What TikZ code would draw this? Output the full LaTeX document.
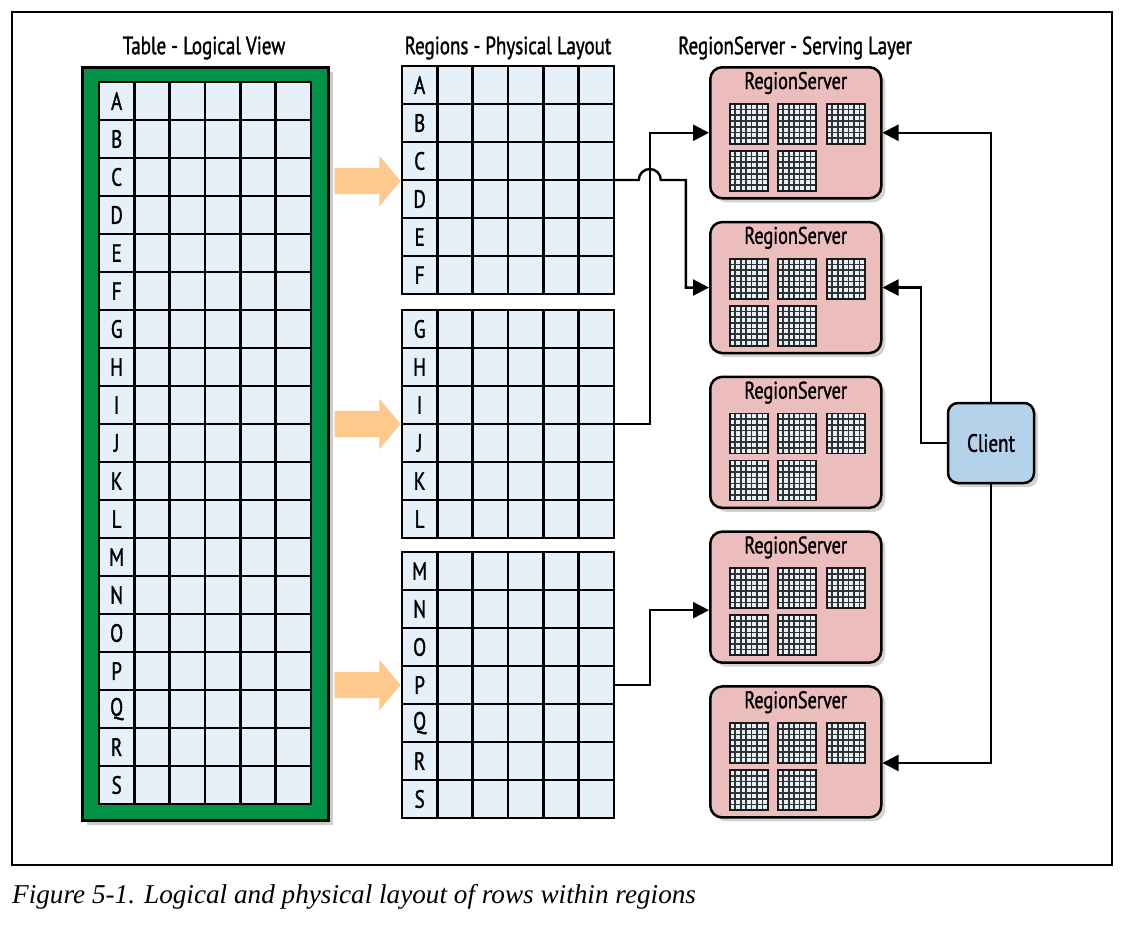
\documentclass[tikz,border=0pt]{standalone}
\usepackage{fontspec}
\setmainfont{PT Sans}[FakeStretch=0.76,FakeBold=1.3]
\newfontfamily\capfont{Liberation Serif}
\usetikzlibrary{shapes.arrows,arrows.meta,positioning,calc,shadows}
\definecolor{tablegreen}{RGB}{0,146,70}
\definecolor{cellblue}{RGB}{230,240,248}
\definecolor{arroworange}{RGB}{253,201,140}
\definecolor{rspink}{RGB}{236,189,189}
\definecolor{clientblue}{RGB}{180,211,235}
\tikzset{
    cell/.style={rectangle,draw,line width=2.6pt,fill=cellblue,minimum width=35.3pt,
                 minimum height=38pt,inner sep=0pt,outer sep=0pt,anchor=north west},
    labcell/.style={cell,font=\fontsize{25}{28}\selectfont},
    heading/.style={font=\fontsize{25}{28}\selectfont,inner sep=0pt},
    link/.style={-{Triangle[length=16pt,width=16pt]},line width=2.4pt},
}

\begin{document}
\begin{tikzpicture}[
    x=1pt,y=-1pt,
    greenbox/.style={rectangle,draw,line width=2.5pt,fill=tablegreen,minimum width=246pt,
                     minimum height=753pt,anchor=north west,
                     drop shadow={shadow xshift=5pt,shadow yshift=-5pt,opacity=0.4}},
    bigarrow/.style={single arrow,fill=arroworange,minimum height=66pt,inner xsep=0pt,
                     inner ysep=13pt,single arrow head extend=12pt,single arrow tip angle=100},
    rsbox/.style={rectangle,draw,line width=2.5pt,fill=rspink,rounded corners=12pt,
                  minimum width=171pt,minimum height=131pt,anchor=north west,
                  drop shadow={shadow xshift=4pt,shadow yshift=-4pt,opacity=0.35}},
    rstitle/.style={font=\fontsize{24}{26}\selectfont,inner sep=0pt},
    minigrid/.style={rectangle,draw=black!90,line width=1.8pt,fill=cellblue,
                     minimum width=38pt,minimum height=40pt,inner sep=0pt,anchor=north west,
                     path picture={
                        \foreach \t in {1,...,6}{
                          \draw[black!80,line width=1.7pt]
                            ($(path picture bounding box.north west)!\t/7!(path picture bounding box.north east)$)
                            -- ($(path picture bounding box.south west)!\t/7!(path picture bounding box.south east)$);
                          \draw[black!80,line width=1.7pt]
                            ($(path picture bounding box.north west)!\t/7!(path picture bounding box.south west)$)
                            -- ($(path picture bounding box.north east)!\t/7!(path picture bounding box.south east)$);
                        }}},
    clientbox/.style={rectangle,draw,line width=2.5pt,fill=clientblue,rounded corners=10pt,
                      minimum width=86pt,minimum height=80pt,font=\fontsize{25}{28}\selectfont,
                      drop shadow={shadow xshift=4pt,shadow yshift=-4pt,opacity=0.35}},
]
    \useasboundingbox (0,0) rectangle (1126,934);
    \draw[line width=1.2pt] (12,12) rectangle (1112,865);

    % ---- Table - logical view ----
    \node[heading] (lv-head) at (204,48) {Table - Logical View};
    \node[greenbox] (logical) at (81,66) {};
    \foreach \r [count=\i from 0] in {A,...,S} {
        \node[labcell] (lv-\r) at (99,{82+\i*38}) {\r};
        \foreach \c in {1,...,5}
            \node[cell] (lv-\r-\c) at ({99+\c*35.3},{82+\i*38}) {};
    }

    % ---- Regions - physical layout ----
    \node[heading] (pl-head) at (508,48) {Regions - Physical Layout};
    \foreach \r [count=\i from 0] in {A,...,F} {
        \node[labcell] (pl-\r) at (402,{66+\i*38}) {\r};
        \foreach \c in {1,...,5}
            \node[cell] (pl-\r-\c) at ({402+\c*35.3},{66+\i*38}) {};
    }
    \foreach \r [count=\i from 0] in {G,...,L} {
        \node[labcell] (pl-\r) at (402,{310+\i*38}) {\r};
        \foreach \c in {1,...,5}
            \node[cell] (pl-\r-\c) at ({402+\c*35.3},{310+\i*38}) {};
    }
    \foreach \r [count=\i from 0] in {M,...,S} {
        \node[labcell] (pl-\r) at (402,{552+\i*38}) {\r};
        \foreach \c in {1,...,5}
            \node[cell] (pl-\r-\c) at ({402+\c*35.3},{552+\i*38}) {};
    }

    % ---- split arrows ----
    \foreach \a/\y in {1/181,2/424,3/685}
        \node[bigarrow] (split\a) at (362,\y) {};

    % ---- RegionServer - serving layer ----
    \node[heading] (rs-head) at (795,48) {RegionServer - Serving Layer};
    \foreach \s [count=\k from 0] in {1,...,5} {
        \node[rsbox] (rs\s) at (709,{66+\k*154.8}) {};
        \node[rstitle] (rs\s-t) at ($(rs\s.north)+(0,17)$) {RegionServer};
        \foreach \g/\gx/\gy in {1/20/37,2/68/37,3/117/37,4/20/84,5/68/84}
            \node[minigrid] (rs\s-g\g) at ($(rs\s.north west)+(\gx,\gy)$) {};
    }

    \node[clientbox] (client) at (991,443) {Client};

    % ---- connections ----
    \draw[link] (pl-C-5.south east) -- ++(25,0) arc[start angle=180,end angle=360,radius=11]
        -- ++(25,0) |- (rs2.west);
    \draw[link] (pl-I-5.south east) -- ++(36,0) |- (rs1.west);
    \draw[link] (pl-P-5.east) -- ++(36,0) |- ([yshift=-13pt]rs4.west);
    \draw[link] (client.north) |- (rs1.east);
    \draw[link] (client.west) -- ++(-26,0) |- (rs2.east);
    \draw[link] (client.south) |- ([yshift=-11pt]rs5.east);

    % ---- caption ----
    \node[anchor=base west,inner sep=0pt,font=\capfont\itshape\fontsize{27.2}{30}\selectfont]
        (caption) at (12,903) {Figure 5-1. Logical and physical layout of rows within regions};
\end{tikzpicture}
\end{document}
